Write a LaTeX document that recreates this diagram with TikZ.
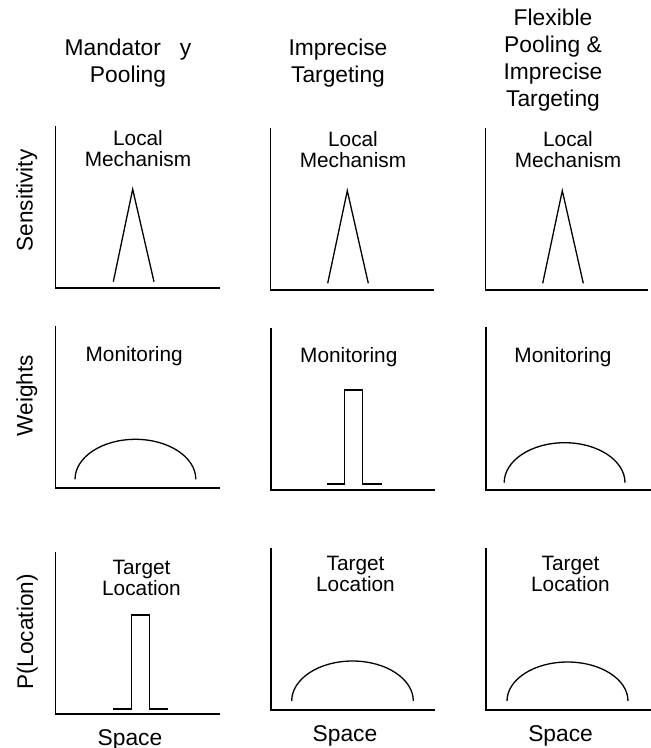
\documentclass[tikz,border=0pt]{standalone}
\usepackage{fontspec}
\setmainfont{Liberation Sans}
\tikzset{
  head/.style={inner sep=0pt, anchor=base, align=center, font=\fontsize{22.8}{26.8}\selectfont},
  lab/.style={inner sep=0pt, anchor=base, align=center, font=\fontsize{20.8}{20.8}\selectfont},
  axlab/.style={inner sep=0pt, anchor=base, rotate=90, font=\fontsize{22.6}{26}\selectfont},
  axis/.style={line width=1.8pt, line cap=butt},
  curve/.style={line width=1.3pt, line join=miter},
}
\begin{document}
\begin{tikzpicture}[x=1pt, y=-1pt]
\useasboundingbox (0,0) rectangle (651,748);
% headings (base anchor = baseline of last line)
\node[head] (h1) at (128,82.3) {Mandator\hspace{19pt}y\\Pooling};
\node[head] (h2) at (338,82.3) {Imprecise\\Targeting};
\node[head] (h3) at (553,106) {Flexible\\Pooling \&\\Imprecise\\Targeting};
% axis labels
\node[axlab] (yl1) at (32.5,200.5) {Sensitivity};
\node[axlab] (yl2) at (32.7,395.8) {Weights};
\node[axlab] (yl3) at (33,632) {P(Location)};
% row 1
\draw[axis] (55.5,126) -- (55.5,288.3) -- (220,288.3);
\draw[axis] (270.5,127.7) -- (270.5,290) -- (434,290);
\draw[axis] (485.5,127.7) -- (485.5,290) -- (648,290);
\node[lab] (l1) at (138,166.5) {Local\\Mechanism};
\node[lab] (l2) at (353,167) {Local\\Mechanism};
\node[lab] (l3) at (568,167) {Local\\Mechanism};
\draw[curve] (113.3,281.7) -- (132.7,189.3) -- (154,281.7);
\draw[curve] (327.7,283.3) -- (347.3,190.7) -- (368.3,283.3);
\draw[curve] (542.7,283.3) -- (562.3,190.7) -- (583.3,283.3);
% row 2
\draw[axis] (55.5,325.5) -- (55.5,488.3) -- (220,488.3);
\draw[axis] (271,327.5) -- (271,490) -- (435,490);
\draw[axis] (486,326.7) -- (486,490) -- (651,490);
\node[lab] (m1) at (134.2,361.5) {Monitoring};
\node[lab] (m2) at (348.8,362) {Monitoring};
\node[lab] (m3) at (563,362) {Monitoring};
\draw[curve] (75,479.3) arc[start angle=180, end angle=0, x radius=60.4pt, y radius=40pt];
\draw[curve] (327,484) -- (344.5,484) -- (344.5,390) -- (362.8,390) -- (362.8,484) -- (382,484);
\draw[curve] (504.2,482.7) arc[start angle=180, end angle=0, x radius=60.4pt, y radius=40pt];
% row 3
\draw[axis] (55.5,552.3) -- (55.5,714.3) -- (220,714.3);
\draw[axis] (271,547.7) -- (271,710) -- (435,710);
\draw[axis] (486,547.7) -- (486,710) -- (651,710);
\node[lab] (t1) at (141.5,595) {Target\\Location};
\node[lab] (t2) at (355.5,591.4) {Target\\Location};
\node[lab] (t3) at (570.5,591.4) {Target\\Location};
\draw[curve] (113.3,709) -- (131.7,709) -- (131.7,615) -- (149.2,615) -- (149.2,709) -- (168,709);
\draw[curve] (291.7,701) arc[start angle=180, end angle=0, x radius=60.8pt, y radius=40pt];
\draw[curve] (507,701) arc[start angle=180, end angle=0, x radius=60.5pt, y radius=39pt];
% x labels
\node[head] (s1) at (130,745) {Space};
\node[head] (s2) at (345,741.7) {Space};
\node[head] (s3) at (560.6,741.7) {Space};
\end{tikzpicture}
\end{document}
